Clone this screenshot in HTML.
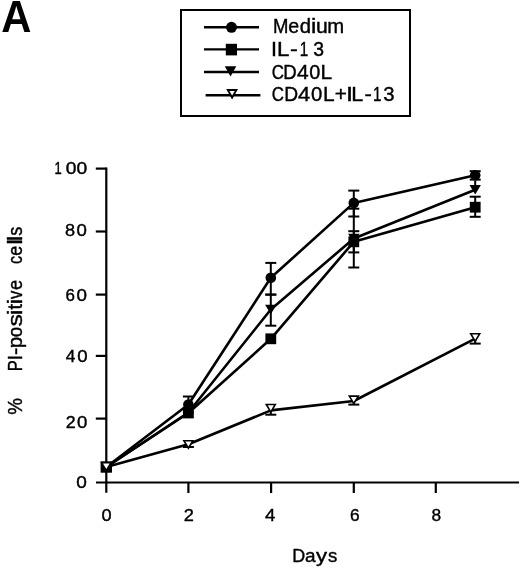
<!DOCTYPE html><html><head><meta charset="utf-8"><style>html,body{margin:0;padding:0;background:#fff;}svg{display:block;}text{font-family:"Liberation Sans",sans-serif;fill:#000;stroke:#000;stroke-width:0.4px;}svg{will-change:transform;}</style></head><body>
<svg width="520" height="569" viewBox="0 0 520 569">
<rect width="520" height="569" fill="#fff"/>
<text x="0.6" y="32.2" font-size="43.5" font-weight="bold" style="stroke-width:0" transform="translate(0.6,0) scale(0.96,1)">A</text>
<rect x="181" y="10" width="229" height="106" fill="none" stroke="#000" stroke-width="2"/>
<line x1="204.0" y1="27.3" x2="259.0" y2="27.3" stroke="#000" stroke-width="2.4"/>
<circle cx="231.5" cy="27.3" r="5.5" fill="#000"/>
<line x1="204.0" y1="49.4" x2="259.0" y2="49.4" stroke="#000" stroke-width="2.4"/>
<rect x="225.8" y="43.8" width="11.2" height="11.6" fill="#000"/>
<line x1="204.0" y1="72.0" x2="259.0" y2="72.0" stroke="#000" stroke-width="2.4"/>
<polygon points="224.8,66.3 236.3,66.3 230.55,76.5" fill="#000"/>
<line x1="205.6" y1="95.2" x2="260.4" y2="95.2" stroke="#000" stroke-width="2.4"/>
<polygon points="226.20,89.00 238.00,89.00 232.10,99.50" fill="#000"/><polygon points="229.45,90.90 234.75,90.90 232.10,95.62" fill="#fff"/>
<text transform="translate(280.60,32.60) scale(0.913,1)" x="-8.46" font-size="20.30" >M</text><text transform="translate(293.80,32.60) scale(0.966,1)" x="-5.63" font-size="20.30" >e</text><text x="299.63" y="32.60" font-size="20.30" >d</text><text transform="translate(313.55,32.60) scale(1.177,1)" x="-2.25" font-size="20.30" >i</text><text transform="translate(321.80,32.60) scale(1.044,1)" x="-5.63" font-size="20.30" >u</text><text x="327.34" y="32.60" font-size="20.30" >m</text>
<text transform="translate(273.90,55.80) scale(1.056,1)" x="-2.82" font-size="20.30" >I</text><text transform="translate(283.80,55.80) scale(1.095,1)" x="-6.14" font-size="20.30" >L</text><text transform="translate(293.95,55.80) scale(1.150,1)" x="-3.38" font-size="20.30" >-</text><text transform="translate(304.10,55.80) scale(0.750,1)" x="-5.92" font-size="20.30" >1</text><text transform="translate(318.60,55.80) scale(0.956,1)" x="-5.59" font-size="20.30" >3</text>
<text transform="translate(277.85,79.00) scale(0.832,1)" x="-7.46" font-size="20.30" >C</text><text transform="translate(290.30,79.00) scale(0.915,1)" x="-7.68" font-size="20.30" >D</text><text transform="translate(302.80,79.00) scale(1.036,1)" x="-5.58" font-size="20.30" >4</text><text transform="translate(314.65,79.00) scale(0.979,1)" x="-5.64" font-size="20.30" >0</text><text transform="translate(326.90,79.00) scale(1.028,1)" x="-6.14" font-size="20.30" >L</text>
<text transform="translate(277.85,101.40) scale(0.832,1)" x="-7.46" font-size="20.30" >C</text><text transform="translate(291.40,101.40) scale(0.948,1)" x="-7.68" font-size="20.30" >D</text><text transform="translate(303.95,101.40) scale(1.085,1)" x="-5.58" font-size="20.30" >4</text><text x="311.06" y="101.40" font-size="20.30" >0</text><text transform="translate(329.40,101.40) scale(1.028,1)" x="-6.14" font-size="20.30" >L</text><text transform="translate(340.85,101.40) scale(1.024,1)" x="-5.92" font-size="20.30" >+</text><text transform="translate(349.50,101.40) scale(1.250,1)" x="-2.82" font-size="20.30" >I</text><text transform="translate(357.85,101.40) scale(1.061,1)" x="-6.14" font-size="20.30" >L</text><text transform="translate(368.30,101.40) scale(1.090,1)" x="-3.38" font-size="20.30" >-</text><text transform="translate(377.50,101.40) scale(0.750,1)" x="-5.92" font-size="20.30" >1</text><text x="383.26" y="101.40" font-size="20.30" >3</text>
<line x1="106.3" y1="167.6" x2="106.3" y2="492.7" stroke="#000" stroke-width="2.2"/>
<line x1="96" y1="482.5" x2="519" y2="482.5" stroke="#000" stroke-width="2.2"/>
<line x1="95.8" y1="168.6" x2="106.3" y2="168.6" stroke="#000" stroke-width="2.2"/>
<line x1="95.8" y1="231.5" x2="106.3" y2="231.5" stroke="#000" stroke-width="2.2"/>
<line x1="95.8" y1="294.6" x2="106.3" y2="294.6" stroke="#000" stroke-width="2.2"/>
<line x1="95.8" y1="355.9" x2="106.3" y2="355.9" stroke="#000" stroke-width="2.2"/>
<line x1="95.8" y1="418.6" x2="106.3" y2="418.6" stroke="#000" stroke-width="2.2"/>
<line x1="188.4" y1="482" x2="188.4" y2="493" stroke="#000" stroke-width="2.2"/>
<line x1="271.1" y1="482" x2="271.1" y2="493" stroke="#000" stroke-width="2.2"/>
<line x1="353.8" y1="482" x2="353.8" y2="493" stroke="#000" stroke-width="2.2"/>
<line x1="435.8" y1="482" x2="435.8" y2="493" stroke="#000" stroke-width="2.2"/>
<text transform="translate(58.40,174.20) scale(0.750,1)" x="-5.05" font-size="17.30" >1</text><text transform="translate(71.20,174.20) scale(1.112,1)" x="-4.81" font-size="17.30" >0</text><text transform="translate(81.80,174.20) scale(1.112,1)" x="-4.81" font-size="17.30" >0</text>
<text transform="translate(70.05,236.00) scale(1.047,1)" x="-4.81" font-size="17.30" >8</text><text transform="translate(81.75,236.00) scale(1.076,1)" x="-4.81" font-size="17.30" >0</text>
<text transform="translate(70.20,300.70) scale(0.977,1)" x="-4.87" font-size="17.30" >6</text><text transform="translate(81.80,300.70) scale(1.088,1)" x="-4.81" font-size="17.30" >0</text>
<text x="65.64" y="362.00" font-size="17.30" >4</text><text transform="translate(82.35,362.00) scale(1.076,1)" x="-4.81" font-size="17.30" >0</text>
<text transform="translate(70.65,428.00) scale(1.028,1)" x="-4.81" font-size="17.30" >2</text><text transform="translate(82.05,428.00) scale(1.076,1)" x="-4.81" font-size="17.30" >0</text>
<text transform="translate(81.55,488.40) scale(1.100,1)" x="-4.81" font-size="17.30" >0</text>
<text transform="translate(106.55,520.70) scale(1.052,1)" x="-4.81" font-size="17.30" >0</text>
<text transform="translate(188.75,520.70) scale(1.053,1)" x="-4.81" font-size="17.30" >2</text>
<text transform="translate(270.00,520.70) scale(1.078,1)" x="-4.76" font-size="17.30" >4</text>
<text x="349.98" y="520.70" font-size="17.30" >6</text>
<text x="431.44" y="520.70" font-size="17.30" >8</text>
<text transform="translate(299.10,561.90) scale(0.942,1)" x="-7.19" font-size="19.00" >D</text><text x="305.01" y="561.90" font-size="19.00" >a</text><text transform="translate(321.50,561.90) scale(1.168,1)" x="-4.75" font-size="19.00" >y</text><text transform="translate(332.55,561.90) scale(0.978,1)" x="-4.67" font-size="19.00" >s</text>
<g transform="translate(22.2,0) rotate(-90)"><text transform="translate(-406.50,0.00) scale(0.941,1)" x="-8.89" font-size="20.00" >%</text><text transform="translate(-365.50,0.00) scale(0.827,1)" x="-6.96" font-size="20.00" >P</text><text transform="translate(-357.60,0.00) scale(0.965,1)" x="-2.78" font-size="20.00" >I</text><text transform="translate(-351.45,0.00) scale(1.085,1)" x="-3.33" font-size="20.00" >-</text><text transform="translate(-342.40,0.00) scale(1.023,1)" x="-5.79" font-size="20.00" >p</text><text transform="translate(-332.10,0.00) scale(0.932,1)" x="-5.56" font-size="20.00" >o</text><text transform="translate(-320.40,0.00) scale(1.250,1)" x="-4.92" font-size="20.00" >s</text><text transform="translate(-312.25,0.00) scale(1.195,1)" x="-2.22" font-size="20.00" >i</text><text x="-309.51" y="0.00" font-size="20.00" >t</text><text transform="translate(-301.55,0.00) scale(1.195,1)" x="-2.22" font-size="20.00" >i</text><text transform="translate(-294.95,0.00) scale(0.821,1)" x="-5.00" font-size="20.00" >v</text><text transform="translate(-285.00,0.00) scale(0.916,1)" x="-5.54" font-size="20.00" >e</text><text transform="translate(-259.80,0.00) scale(0.812,1)" x="-5.16" font-size="20.00" >c</text><text transform="translate(-250.80,0.00) scale(0.895,1)" x="-5.54" font-size="20.00" >e</text><text transform="translate(-242.00,0.00) scale(1.250,1)" x="-2.23" font-size="20.00" >l</text><text transform="translate(-238.50,0.00) scale(1.250,1)" x="-2.23" font-size="20.00" >l</text><text transform="translate(-231.25,0.00) scale(0.906,1)" x="-4.92" font-size="20.00" >s</text></g>
<polyline points="106.3,467.0 188.4,404.5 270.8,277.8 353.8,202.9 475.2,175.3" fill="none" stroke="#000" stroke-width="2.60" stroke-linejoin="round"/>
<polyline points="106.3,467.0 188.4,413.0 270.8,338.8 353.8,241.8 475.2,207.2" fill="none" stroke="#000" stroke-width="2.60" stroke-linejoin="round"/>
<polyline points="106.3,467.0 188.4,412.5 270.8,309.5 353.8,238.5 475.2,189.8" fill="none" stroke="#000" stroke-width="2.60" stroke-linejoin="round"/>
<polyline points="106.3,467.0 188.4,444.3 270.8,410.4 353.8,401.0 475.2,338.6" fill="none" stroke="#000" stroke-width="2.60" stroke-linejoin="round"/>
<line x1="188.4" y1="396.5" x2="188.4" y2="412.5" stroke="#000" stroke-width="2"/><line x1="182.9" y1="396.5" x2="193.9" y2="396.5" stroke="#000" stroke-width="2"/><line x1="182.9" y1="412.5" x2="193.9" y2="412.5" stroke="#000" stroke-width="2"/><line x1="270.8" y1="262.9" x2="270.8" y2="294.6" stroke="#000" stroke-width="2"/><line x1="265.3" y1="262.9" x2="276.3" y2="262.9" stroke="#000" stroke-width="2"/><line x1="265.3" y1="294.6" x2="276.3" y2="294.6" stroke="#000" stroke-width="2"/><line x1="353.8" y1="190.6" x2="353.8" y2="216.5" stroke="#000" stroke-width="2"/><line x1="348.3" y1="190.6" x2="359.3" y2="190.6" stroke="#000" stroke-width="2"/><line x1="348.3" y1="216.5" x2="359.3" y2="216.5" stroke="#000" stroke-width="2"/><line x1="475.2" y1="171.2" x2="475.2" y2="179.6" stroke="#000" stroke-width="2"/><line x1="469.7" y1="171.2" x2="480.7" y2="171.2" stroke="#000" stroke-width="2"/><line x1="469.7" y1="179.6" x2="480.7" y2="179.6" stroke="#000" stroke-width="2"/>
<line x1="353.8" y1="231.2" x2="353.8" y2="252.4" stroke="#000" stroke-width="2"/><line x1="348.3" y1="231.2" x2="359.3" y2="231.2" stroke="#000" stroke-width="2"/><line x1="348.3" y1="252.4" x2="359.3" y2="252.4" stroke="#000" stroke-width="2"/><line x1="475.2" y1="196.7" x2="475.2" y2="216.8" stroke="#000" stroke-width="2"/><line x1="469.7" y1="196.7" x2="480.7" y2="196.7" stroke="#000" stroke-width="2"/><line x1="469.7" y1="216.8" x2="480.7" y2="216.8" stroke="#000" stroke-width="2"/>
<line x1="270.8" y1="294.6" x2="270.8" y2="325.7" stroke="#000" stroke-width="2"/><line x1="265.3" y1="294.6" x2="276.3" y2="294.6" stroke="#000" stroke-width="2"/><line x1="265.3" y1="325.7" x2="276.3" y2="325.7" stroke="#000" stroke-width="2"/><line x1="353.8" y1="208.7" x2="353.8" y2="267.5" stroke="#000" stroke-width="2"/><line x1="348.3" y1="208.7" x2="359.3" y2="208.7" stroke="#000" stroke-width="2"/><line x1="348.3" y1="267.5" x2="359.3" y2="267.5" stroke="#000" stroke-width="2"/><line x1="475.2" y1="180.5" x2="475.2" y2="189.8" stroke="#000" stroke-width="2"/>
<line x1="188.4" y1="444.8" x2="188.4" y2="447.0" stroke="#000" stroke-width="2"/><line x1="182.9" y1="447.0" x2="193.9" y2="447.0" stroke="#000" stroke-width="2"/><line x1="270.8" y1="408.6" x2="270.8" y2="414.7" stroke="#000" stroke-width="2"/><line x1="265.3" y1="414.7" x2="276.3" y2="414.7" stroke="#000" stroke-width="2"/><line x1="353.8" y1="400.2" x2="353.8" y2="404.6" stroke="#000" stroke-width="2"/><line x1="348.3" y1="404.6" x2="359.3" y2="404.6" stroke="#000" stroke-width="2"/><line x1="475.2" y1="337.9" x2="475.2" y2="343.6" stroke="#000" stroke-width="2"/><line x1="469.7" y1="343.6" x2="480.7" y2="343.6" stroke="#000" stroke-width="2"/>
<rect x="100.6" y="461.3" width="11.4" height="11.4" fill="#000"/>
<rect x="183.0" y="407.6" width="10.8" height="10.8" fill="#000"/>
<rect x="265.4" y="333.4" width="10.8" height="10.8" fill="#000"/>
<rect x="348.4" y="236.4" width="10.8" height="10.8" fill="#000"/>
<rect x="469.8" y="201.8" width="10.8" height="10.8" fill="#000"/>
<circle cx="106.3" cy="467.0" r="5.3" fill="#000"/>
<circle cx="188.4" cy="404.5" r="5.3" fill="#000"/>
<circle cx="270.8" cy="277.8" r="5.3" fill="#000"/>
<circle cx="353.8" cy="202.9" r="5.3" fill="#000"/>
<circle cx="475.2" cy="175.3" r="5.3" fill="#000"/>
<polygon points="100.6,462.3 112.0,462.3 106.3,471.7" fill="#000"/>
<polygon points="182.7,407.8 194.1,407.8 188.4,417.2" fill="#000"/>
<polygon points="265.1,304.8 276.5,304.8 270.8,314.2" fill="#000"/>
<polygon points="348.1,233.8 359.5,233.8 353.8,243.2" fill="#000"/>
<polygon points="469.5,185.1 480.9,185.1 475.2,194.5" fill="#000"/>
<polygon points="100.40,461.90 112.20,461.90 106.30,472.10" fill="#000"/><polygon points="103.00,463.40 109.60,463.40 106.30,469.10" fill="#fff"/>
<polygon points="182.50,439.90 194.30,439.90 188.40,449.70" fill="#000"/><polygon points="185.33,441.50 191.47,441.50 188.40,446.60" fill="#fff"/>
<polygon points="264.90,403.70 276.70,403.70 270.80,413.50" fill="#000"/><polygon points="267.73,405.30 273.87,405.30 270.80,410.40" fill="#fff"/>
<polygon points="347.90,395.30 359.70,395.30 353.80,405.10" fill="#000"/><polygon points="350.73,396.90 356.87,396.90 353.80,402.00" fill="#fff"/>
<polygon points="469.30,333.00 481.10,333.00 475.20,342.80" fill="#000"/><polygon points="472.13,334.60 478.27,334.60 475.20,339.70" fill="#fff"/>
</svg></body></html>
